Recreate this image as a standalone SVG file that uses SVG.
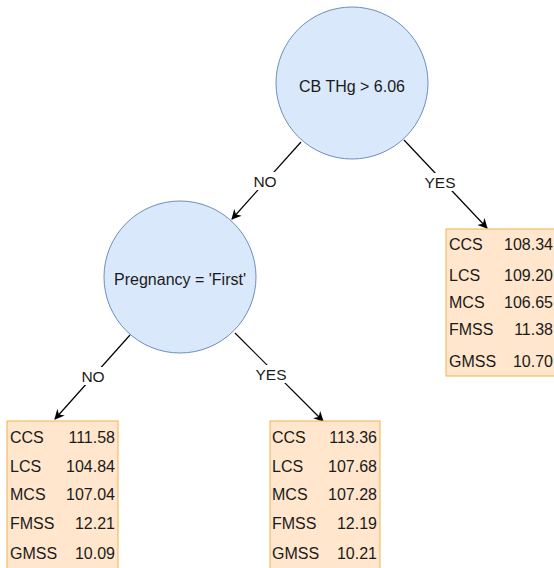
<svg xmlns="http://www.w3.org/2000/svg" width="554" height="568" viewBox="0 0 554 568">
<defs>
<style>
.node{fill:#dae8fc;stroke:#6c8ebf;stroke-width:1}
.box{fill:#ffe6cc;stroke:#f0b44a;stroke-width:1}
text{font-family:"Liberation Sans",Arial,sans-serif;fill:#1a1a1a}
.t{font-size:16px}
.lbl{font-size:15.5px;text-anchor:middle}
.v{text-anchor:end}
.edge{stroke:#000;stroke-width:1.2;fill:none;marker-end:url(#arr)}
.bg{fill:#fff}
</style>
<marker id="arr" viewBox="0 0 10 10" refX="9" refY="5" markerWidth="10" markerHeight="10" markerUnits="userSpaceOnUse" orient="auto">
<path d="M0,0 L10,5 L0,10 L3,5 Z" fill="#000"/>
</marker>
</defs>
<g id="connectors">
<line class="edge" x1="301" y1="142" x2="232" y2="219"/>
<line class="edge" x1="404" y1="140" x2="487" y2="228"/>
<line class="edge" x1="130" y1="335" x2="55" y2="419"/>
<line class="edge" x1="235" y1="333" x2="323" y2="421"/>
<rect class="bg" x="251" y="172" width="28" height="18"/>
<text class="lbl" x="265" y="187">NO</text>
<rect class="bg" x="422" y="173" width="36" height="18"/>
<text class="lbl" x="440" y="188">YES</text>
<rect class="bg" x="79" y="367" width="28" height="18"/>
<text class="lbl" x="93" y="382">NO</text>
<rect class="bg" x="253" y="365" width="36" height="18"/>
<text class="lbl" x="271" y="380">YES</text>
</g>
<g id="node-root">
<circle class="node" cx="352" cy="83" r="76"/>
<text class="t" x="352" y="92" text-anchor="middle">CB THg &gt; 6.06</text>
</g>
<g id="node-pregnancy">
<circle class="node" cx="180" cy="277" r="76"/>
<text class="t" x="180" y="285" text-anchor="middle">Pregnancy = 'First'</text>
</g>
<g id="leaf-yes">
<rect class="box" x="446" y="229" width="110" height="147"/>
<text class="t" x="449" y="250">CCS</text><text class="t v" x="553" y="250">108.34</text>
<text class="t" x="449" y="281">LCS</text><text class="t v" x="553" y="281">109.20</text>
<text class="t" x="449" y="308">MCS</text><text class="t v" x="553" y="308">106.65</text>
<text class="t" x="449" y="335">FMSS</text><text class="t v" x="553" y="335">11.38</text>
<text class="t" x="449" y="367">GMSS</text><text class="t v" x="553" y="367">10.70</text>
</g>
<g id="leaf-no-no">
<rect class="box" x="7" y="421" width="111" height="150"/>
<text class="t" x="10" y="443">CCS</text><text class="t v" x="115" y="443">111.58</text>
<text class="t" x="10" y="472">LCS</text><text class="t v" x="115" y="472">104.84</text>
<text class="t" x="10" y="500">MCS</text><text class="t v" x="115" y="500">107.04</text>
<text class="t" x="10" y="529">FMSS</text><text class="t v" x="115" y="529">12.21</text>
<text class="t" x="10" y="559">GMSS</text><text class="t v" x="115" y="559">10.09</text>
</g>
<g id="leaf-no-yes">
<rect class="box" x="270" y="421" width="110" height="150"/>
<text class="t" x="272" y="443">CCS</text><text class="t v" x="377" y="443">113.36</text>
<text class="t" x="272" y="472">LCS</text><text class="t v" x="377" y="472">107.68</text>
<text class="t" x="272" y="500">MCS</text><text class="t v" x="377" y="500">107.28</text>
<text class="t" x="272" y="529">FMSS</text><text class="t v" x="377" y="529">12.19</text>
<text class="t" x="272" y="559">GMSS</text><text class="t v" x="377" y="559">10.21</text>
</g>
</svg>
